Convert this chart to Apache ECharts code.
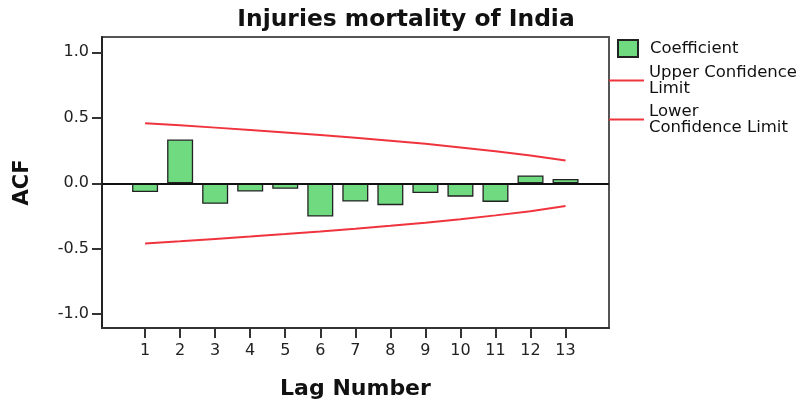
<!DOCTYPE html>
<html>
<head>
<meta charset="utf-8">
<script src="https://cdn.jsdelivr.net/npm/echarts@6/dist/echarts.min.js"></script>
<style>
  html, body { margin: 0; padding: 0; background: #fff; }
  #chart { width: 808px; height: 405px; }
</style>
</head>
<body>
<div id="chart"></div>
<script>
// Autocorrelation of injuries mortality, lags 1..13
const lags = [1, 2, 3, 4, 5, 6, 7, 8, 9, 10, 11, 12, 13];
const coefficient = [-0.066, 0.334, -0.157, -0.063, -0.042, -0.254, -0.140, -0.167, -0.075, -0.102, -0.142, 0.060, 0.033];
const upperLimit = [0.459, 0.443, 0.425, 0.407, 0.388, 0.368, 0.347, 0.325, 0.301, 0.274, 0.245, 0.213, 0.174];
const lowerLimit = [-0.459, -0.443, -0.425, -0.407, -0.388, -0.368, -0.347, -0.325, -0.301, -0.274, -0.245, -0.213, -0.174];
const yTicks = [-1.0, -0.5, 0.0, 0.5, 1.0];

const FONT = 'DejaVu Sans';
const BAR_GREEN = '#70da80';
const LIMIT_RED = '#f0343e';

const pairs = (vals) => lags.map((l, i) => [l, vals[i]]);

const chart = echarts.init(document.getElementById('chart'), null, { renderer: 'canvas' });

chart.setOption({
  animation: false,
  backgroundColor: '#fff',
  title: {
    text: 'Injuries mortality of India',
    left: 401, top: 3,
    textAlign: 'center',
    textStyle: { fontFamily: FONT, fontWeight: 'bold', fontSize: 23.4, color: '#111' }
  },
  grid: {
    left: 102, top: 37, right: 199, bottom: 77,
    show: true, borderColor: '#555', borderWidth: 2
  },
  legend: [
    {
      left: 617, top: 39, padding: 0,
      itemWidth: 20, itemHeight: 17,
      selectedMode: false,
      data: [{ name: 'Coefficient', icon: 'rect' }],
      textStyle: { fontFamily: FONT, fontSize: 16.5, color: '#111', padding: [0, 0, 0, 7] }
    },
    {
      left: 609, top: 64, padding: 0,
      itemWidth: 35, itemHeight: 2,
      selectedMode: false,
      data: [{ name: 'Upper Confidence Limit', icon: 'rect' }],
      formatter: () => 'Upper Confidence\nLimit',
      textStyle: { fontFamily: FONT, fontSize: 16.5, lineHeight: 16, color: '#111' }
    },
    {
      left: 609, top: 103, padding: 0,
      itemWidth: 35, itemHeight: 2,
      selectedMode: false,
      data: [{ name: 'Lower Confidence Limit', icon: 'rect' }],
      formatter: () => 'Lower\nConfidence Limit',
      textStyle: { fontFamily: FONT, fontSize: 16.5, lineHeight: 16, color: '#111' }
    }
  ],
  xAxis: {
    type: 'value',
    min: -0.23, max: 14.24,
    name: 'Lag Number',
    nameLocation: 'middle',
    nameGap: 50,
    nameTextStyle: { fontFamily: FONT, fontWeight: 'bold', fontSize: 22, color: '#111' },
    axisLine: { onZero: false, lineStyle: { color: '#333', width: 2 } },
    axisTick: { customValues: lags, length: 10, lineStyle: { color: '#333', width: 2 } },
    axisLabel: {
      customValues: lags, margin: 15,
      fontFamily: FONT, fontSize: 16, color: '#222'
    },
    splitLine: { show: false }
  },
  yAxis: {
    type: 'value',
    min: -1.105, max: 1.117,
    name: 'ACF',
    nameLocation: 'middle',
    nameGap: 69,
    nameRotate: 90,
    nameTextStyle: { fontFamily: FONT, fontWeight: 'bold', fontSize: 21, color: '#111' },
    axisLine: { show: true, onZero: false, lineStyle: { color: '#222', width: 2 } },
    axisTick: { customValues: yTicks, length: 10, lineStyle: { color: '#333', width: 2 } },
    axisLabel: {
      customValues: yTicks, margin: 13,
      formatter: (v) => v.toFixed(1),
      fontFamily: FONT, fontSize: 16, color: '#222'
    },
    splitLine: { show: false }
  },
  series: [
    {
      name: 'Coefficient',
      type: 'bar',
      data: pairs(coefficient),
      barWidth: 26,
      itemStyle: { color: BAR_GREEN, borderColor: '#222', borderWidth: 1.3 },
      markLine: {
        silent: true,
        symbol: 'none',
        label: { show: false },
        lineStyle: { color: '#111', width: 2, type: 'solid' },
        data: [{ yAxis: 0 }]
      }
    },
    {
      name: 'Upper Confidence Limit',
      type: 'line',
      data: pairs(upperLimit),
      symbol: 'none',
      color: LIMIT_RED,
      lineStyle: { color: LIMIT_RED, width: 2 }
    },
    {
      name: 'Lower Confidence Limit',
      type: 'line',
      data: pairs(lowerLimit),
      symbol: 'none',
      color: LIMIT_RED,
      lineStyle: { color: LIMIT_RED, width: 2 }
    }
  ]
});
</script>
</body>
</html>
